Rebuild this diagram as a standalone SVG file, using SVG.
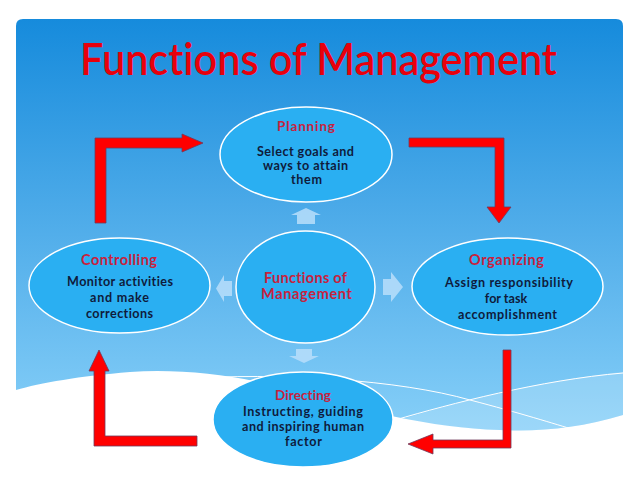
<svg xmlns="http://www.w3.org/2000/svg" width="638" height="479" viewBox="0 0 638 479">
<defs>
<linearGradient id="bg" x1="0" y1="0" x2="0" y2="1">
<stop offset="0" stop-color="#168bdc"/>
<stop offset="0.45" stop-color="#4aa9e8"/>
<stop offset="1" stop-color="#86cff8"/>
</linearGradient>
<style>
text{font-variant-ligatures:none}
.node{fill:#2aaff2;stroke:#ffffff;stroke-width:1.5}
.lbl{font-family:Lato,"Open Sans","Liberation Sans",sans-serif;font-weight:bold;fill:#c8223e;text-anchor:middle}
.body{font-family:Lato,"Open Sans","Liberation Sans",sans-serif;font-weight:bold;fill:#0f1b3c;text-anchor:middle;font-size:12.6px}
.red{fill:#ff0000;stroke:#6e3a5c;stroke-width:0.8}
.soft{fill:#b8defa;opacity:0.85}
</style>
</defs>
<rect width="638" height="479" fill="#ffffff"/>
<g id="background">
<path d="M16,26 Q16,19 23,19 L616,19 Q623,19 623,26 L623,415 C580,428 540,432 500,430 C430,428 360,410 300,392 C250,378 190,368 130,372 C80,376 40,383 16,390 Z" fill="url(#bg)"/>
<path d="M400,420 C450,404 540,380 623,372 L623,415 C580,428 540,432 500,430 C470,429 430,425 400,420 Z" fill="#ffffff" opacity="0.18"/>
<path d="M180,379 C280,372 400,380 470,400 C520,413 555,424 575,430" fill="none" stroke="#ffffff" stroke-width="1"/>
<path d="M395,420 C450,404 540,380 623,373" fill="none" stroke="#ffffff" stroke-width="1"/>
</g>
<text x="318.5" y="75" font-family="Lato,'Open Sans','Liberation Sans',sans-serif" font-weight="600" font-size="44" fill="#e8000c" text-anchor="middle" textLength="477" lengthAdjust="spacingAndGlyphs">Functions of Management</text>
<g id="connectors">
<polygon class="soft" points="297,224 297,215 291,215 306,208 321,215 315,215 315,224"/>
<polygon class="soft" points="232,281 224,281 224,275 216,288.5 224,302 224,296 232,296"/>
<polygon class="soft" points="383,279 391,279 391,272 403,287 391,302 391,295 383,295"/>
<polygon class="soft" points="296,349 312,349 312,356 319,356 304,363 289,356 296,356"/>
<polygon class="red" points="95,223 95,138 182,138 182,134 203,143 182,152 182,148 106,148 106,223"/>
<polygon class="red" points="409,138 504,138 504,207 511,207 499,223 487,207 495,207 495,147 409,147"/>
<polygon class="red" points="503,350 511,350 511,448 433,448 433,454 408,444 433,434 433,440 503,440"/>
<polygon class="red" points="94,446 94,371 89,371 99,350 109,371 105,371 105,436 197,436 197,446"/>
</g>
<g id="planning">
<ellipse class="node" cx="306" cy="154.5" rx="86" ry="47.5"/>
<text class="lbl" x="306" y="131" font-size="13.5" textLength="58">Planning</text>
<text class="body" x="305.5" y="156" textLength="97">Select goals and</text>
<text class="body" x="305.5" y="170" textLength="85">ways to attain</text>
<text class="body" x="306.5" y="184" textLength="31">them</text>
</g>
<g id="center">
<ellipse class="node" cx="305.5" cy="287" rx="69.5" ry="56"/>
<text class="lbl" x="305.5" y="283" font-size="14.5" textLength="83">Functions of</text>
<text class="lbl" x="306.5" y="299" font-size="14.5" textLength="91">Management</text>
</g>
<g id="controlling">
<ellipse class="node" cx="119.5" cy="285.5" rx="90.5" ry="47.5"/>
<text class="lbl" x="119" y="265" font-size="14.5" textLength="76">Controlling</text>
<text class="body" x="120" y="286" textLength="106">Monitor activities</text>
<text class="body" x="119.5" y="302" textLength="59">and make</text>
<text class="body" x="119.5" y="318" textLength="67">corrections</text>
</g>
<g id="organizing">
<ellipse class="node" cx="507.5" cy="286.5" rx="95.5" ry="48.5"/>
<text class="lbl" x="506.5" y="265" font-size="14.5" textLength="75">Organizing</text>
<text class="body" x="509" y="287" textLength="128">Assign responsibility</text>
<text class="body" x="506" y="303">for task</text>
<text class="body" x="507.5" y="319" textLength="99">accomplishment</text>
</g>
<g id="directing">
<ellipse class="node" cx="303" cy="419.5" rx="90" ry="47.5"/>
<text class="lbl" x="303" y="400" font-size="13.5" textLength="56">Directing</text>
<text class="body" x="303" y="416" textLength="120">Instructing, guiding</text>
<text class="body" x="303" y="431" textLength="122">and inspiring human</text>
<text class="body" x="303.5" y="446" textLength="37">factor</text>
</g>
</svg>
